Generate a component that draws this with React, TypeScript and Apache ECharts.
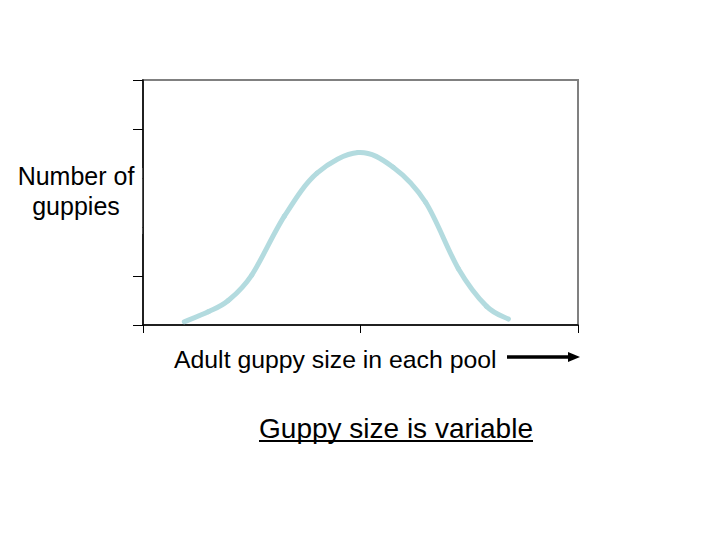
import React, { useEffect, useRef } from "react";
import * as echarts from "echarts";

const sizeX = [0.19, 0.3, 0.392, 0.5, 0.65, 0.8, 0.989, 1.15, 1.3, 1.45, 1.58, 1.68];
const counts = [0.067, 0.271, 0.5, 1.02, 2.22, 3.1, 3.52, 3.22, 2.5, 1.15, 0.38, 0.122];
const yLabel = "Number of\nguppies";
const xLabel = "Adult guppy size in each pool";
const title = "Guppy size is variable";

const FONT = "'Liberation Sans', Arial, sans-serif";

export default function App() {
  const ref = useRef<HTMLDivElement>(null);
  useEffect(() => {
    if (!ref.current) return;
    const chart = echarts.init(ref.current, null, { renderer: "svg" });
    const n = sizeX.length;
    chart.setOption({
      animation: false,
      backgroundColor: "#ffffff",
      grid: {
        left: 143,
        top: 80,
        width: 435,
        height: 245,
        show: true,
        borderColor: "#808080",
        borderWidth: 2,
        backgroundColor: "transparent",
      },
      xAxis: {
        type: "value",
        min: 0,
        max: 2,
        interval: 1,
        axisLine: { show: true, lineStyle: { color: "#000", width: 1.5 } },
        axisTick: { show: true, length: 8, lineStyle: { color: "#000", width: 1 } },
        axisLabel: { show: false },
        splitLine: { show: false },
      },
      yAxis: {
        type: "value",
        min: 0,
        max: 5,
        interval: 1,
        axisLine: { show: true, lineStyle: { color: "#000", width: 1.5 } },
        axisTick: { show: true, length: 10, lineStyle: { color: "#000", width: 1 } },
        axisLabel: { show: false },
        splitLine: { show: false },
      },
      series: [
        {
          type: "custom",
          data: sizeX.map((x, i) => [x, counts[i]]),
          encode: { x: 0, y: 1 },
          renderItem: (params: any, api: any) => {
            const i = params.dataIndex;
            if (i >= n - 1) return null;
            const P = (k: number) => {
              const j = Math.max(0, Math.min(n - 1, k));
              return api.coord([sizeX[j], counts[j]]);
            };
            const p0 = P(i - 1);
            const p1 = P(i);
            const p2 = P(i + 1);
            const p3 = P(i + 2);
            const t = 1 / 6;
            return {
              type: "bezierCurve",
              shape: {
                x1: p1[0],
                y1: p1[1],
                x2: p2[0],
                y2: p2[1],
                cpx1: p1[0] + (p2[0] - p0[0]) * t,
                cpy1: p1[1] + (p2[1] - p0[1]) * t,
                cpx2: p2[0] - (p3[0] - p1[0]) * t,
                cpy2: p2[1] - (p3[1] - p1[1]) * t,
              },
              style: {
                stroke: "#b3dbdf",
                lineWidth: 5,
                fill: "none",
                lineCap: "round",
              },
            };
          },
        },
      ],
      graphic: [
        {
          type: "rect",
          shape: { x: 120, y: 168, width: 22.2, height: 66 },
          style: { fill: "#ffffff" },
          z: 100,
        },
        {
          type: "text",
          x: 76,
          y: 191,
          z: 101,
          style: {
            text: yLabel,
            font: `25px ${FONT}`,
            fill: "#000",
            align: "center",
            verticalAlign: "middle",
            lineHeight: 30,
          },
        },
        {
          type: "text",
          x: 174,
          y: 359,
          style: {
            text: xLabel,
            font: `24.8px ${FONT}`,
            fill: "#000",
            align: "left",
            verticalAlign: "middle",
          },
        },
        {
          type: "line",
          shape: { x1: 507, y1: 357, x2: 570, y2: 357 },
          style: { stroke: "#000", lineWidth: 3.5 },
        },
        {
          type: "polygon",
          shape: { points: [[568, 352], [580, 357], [568, 362]] },
          style: { fill: "#000" },
        },
        {
          type: "text",
          x: 396,
          y: 428,
          style: {
            text: title,
            font: `28px ${FONT}`,
            fill: "#000",
            align: "center",
            verticalAlign: "middle",
          },
        },
        {
          type: "line",
          shape: { x1: 259, y1: 441, x2: 533, y2: 441 },
          style: { stroke: "#000", lineWidth: 2 },
        },
      ],
    });
    return () => chart.dispose();
  }, []);
  return (
    <div
      ref={ref}
      style={{ position: "fixed", left: 0, top: 0, width: 720, height: 540 }}
    />
  );
}
